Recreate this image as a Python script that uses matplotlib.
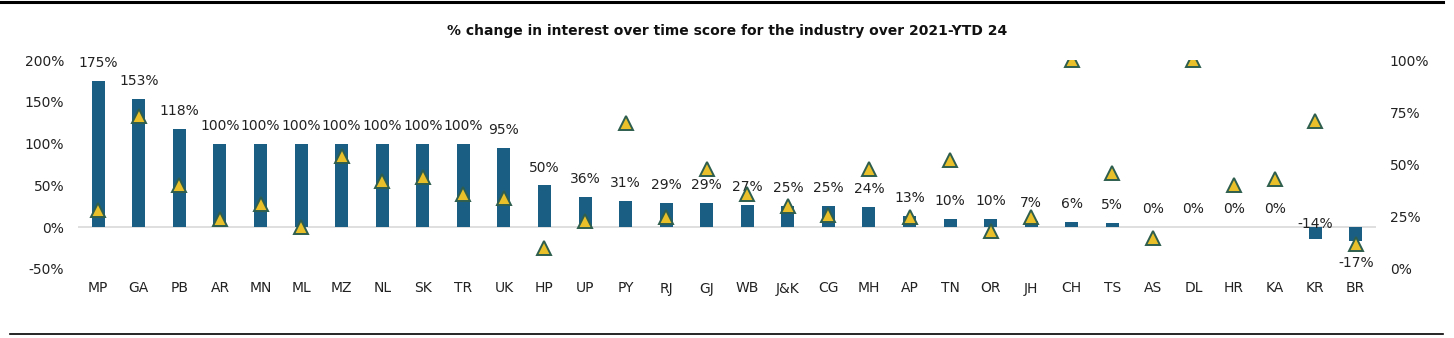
import numpy as np
import matplotlib.pyplot as plt
from matplotlib.ticker import FuncFormatter

states = ['MP', 'GA', 'PB', 'AR', 'MN', 'ML', 'MZ', 'NL', 'SK', 'TR', 'UK', 'HP',
          'UP', 'PY', 'RJ', 'GJ', 'WB', 'J&K', 'CG', 'MH', 'AP', 'TN', 'OR', 'JH',
          'CH', 'TS', 'AS', 'DL', 'HR', 'KA', 'KR', 'BR']
pct_change = [175, 153, 118, 100, 100, 100, 100, 100, 100, 100, 95, 50,
              36, 31, 29, 29, 27, 25, 25, 24, 13, 10, 10, 7,
              6, 5, 0, 0, 0, 0, -14, -17]
# triangle markers, read against the right axis
score = [28, 73, 40, 24, 31, 20, 54, 42, 44, 36, 34, 10,
         23, 70, 25, 48, 36, 30, 26, 48, 25, 52, 18, 25,
         100, 46, 15, 100, 40, 43, 71, 12]

bar_col = '#1B5E84'
tri_col = '#E9C02A'
tri_edge = '#2E5E4E'

fig = plt.figure(figsize=(14.54, 3.38), dpi=100)
ax = fig.add_axes([78 / 1454, (338 - 269) / 338, 1298 / 1454, 209 / 338])
x = np.arange(len(states))

ax.bar(x, pct_change, width=0.32, color=bar_col, zorder=2)
ax.axhline(0, color='#D9D9D9', lw=1.2, zorder=1)
ax.set_xlim(-0.5, len(states) - 0.5)
ax.set_ylim(-50, 200)
ax.set_yticks([-50, 0, 50, 100, 150, 200])
ax.yaxis.set_major_formatter(FuncFormatter(lambda v, p: f'{v:.0f}%'))
ax.set_xticks(x)
ax.set_xticklabels(states)
ax.tick_params(axis='both', length=0, labelsize=10, colors='#222222')
ax.tick_params(axis='x', pad=9)
ax.tick_params(axis='y', pad=10)
for s in ax.spines.values():
    s.set_visible(False)

for i, v in enumerate(pct_change):
    if v >= 0:
        ax.text(i, v + 13, f'{v}%', ha='center', va='bottom', fontsize=10, color='#222222', zorder=4)
    elif v > -15:
        # this one sits just over the zero line in the original
        ax.text(i, -4, f'{v}%', ha='center', va='bottom', fontsize=10, color='#222222', zorder=4)
    else:
        ax.text(i, v - 17, f'{v}%', ha='center', va='top', fontsize=10, color='#222222', zorder=4)

ax2 = ax.twinx()
ax2.plot(x, score, linestyle='none', marker='^', markersize=9.5,
         markerfacecolor=tri_col, markeredgecolor=tri_edge, markeredgewidth=1.4, zorder=3)
ax2.set_ylim(0, 100)
ax2.set_yticks([0, 25, 50, 75, 100])
ax2.yaxis.set_major_formatter(FuncFormatter(lambda v, p: f'{v:.0f}%'))
ax2.tick_params(axis='y', length=0, labelsize=10, colors='#222222', pad=10)
for s in ax2.spines.values():
    s.set_visible(False)

fig.text(727 / 1454, 1 - 31 / 338, '% change in interest over time score for the industry over 2021-YTD 24',
         ha='center', va='center', fontsize=10, fontweight='bold', color='#111111')

# frame rules top and bottom
fig.add_artist(plt.Line2D([0, 1443 / 1454], [1 - 2 / 338, 1 - 2 / 338], color='black', lw=2.2))
fig.add_artist(plt.Line2D([10 / 1454, 1443 / 1454], [1 - 334 / 338, 1 - 334 / 338], color='black', lw=1.2))

fig.savefig('out.png', dpi=100)
